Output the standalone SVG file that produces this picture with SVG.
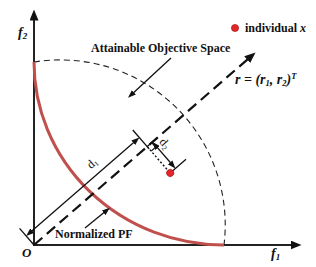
<svg xmlns="http://www.w3.org/2000/svg" width="316" height="267" viewBox="0 0 316 267">
<style>
text{font-family:"Liberation Serif","Times New Roman",serif;fill:#111}
.b{font-weight:bold;font-size:12px}
.bi{font-weight:bold;font-style:italic}
.ax{stroke:#222;stroke-width:2;fill:none}
.thin{stroke:#111;stroke-width:1.3;fill:none}
</style>
<defs>
<marker id="hBig" viewBox="0 0 11 9" refX="0.5" refY="4.5" markerWidth="11" markerHeight="9" markerUnits="userSpaceOnUse" orient="auto"><path d="M0,0 L11,4.5 L0,9 z" fill="#111"/></marker>
<marker id="hSm" viewBox="0 0 8 6" refX="0.5" refY="3" markerWidth="8" markerHeight="6" markerUnits="userSpaceOnUse" orient="auto-start-reverse"><path d="M0,0 L8,3 L0,6 z" fill="#111"/></marker>
</defs>
<rect width="316" height="267" fill="#fff"/>
<g id="axes">
<line class="ax" x1="34" y1="246" x2="34" y2="20" marker-end="url(#hBig)"/>
<line class="ax" x1="33" y1="245" x2="291" y2="245" marker-end="url(#hBig)"/>
</g>
<g id="attainable-boundary">
<path d="M34,62 A165,165 0 0 1 224,245" fill="none" stroke="#222" stroke-width="1.1" stroke-dasharray="6 4"/>
</g>
<g id="normalized-pf">
<path d="M34,62 A190,183 0 0 0 224,245" fill="none" stroke="#c0504d" stroke-width="3"/>
</g>
<g id="connectors">
<line class="thin" x1="171" y1="58" x2="133.5" y2="92.7" marker-end="url(#hSm)"/>
<line class="thin" x1="85" y1="228" x2="104" y2="212.5" marker-end="url(#hSm)"/>
</g>
<g id="construction" transform="translate(34,245) rotate(-41)">
<line x1="0" y1="0" x2="283" y2="0" stroke="#111" stroke-width="2.2" stroke-dasharray="11 6" marker-end="url(#hBig)"/>
<line class="thin" x1="0" y1="0" x2="0" y2="-22"/>
<line class="thin" x1="150" y1="3" x2="150" y2="-22"/>
<line class="thin" x1="7.5" y1="-12" x2="142.5" y2="-12" marker-start="url(#hSm)" marker-end="url(#hSm)"/>
<line x1="150" y1="0" x2="150" y2="32" stroke="#111" stroke-width="1.4" stroke-dasharray="2 2"/>
<path class="thin" d="M156,0 L156,6 L150,6"/>
<line class="thin" x1="150" y1="0" x2="164" y2="0"/>
<line class="thin" x1="150" y1="35" x2="171" y2="35"/>
<line class="thin" x1="157" y1="7.5" x2="157" y2="27.5" marker-start="url(#hSm)" marker-end="url(#hSm)"/>
<circle cx="150" cy="35" r="3.6" fill="#e3262b" stroke="#a01010" stroke-width="0.6"/>
</g>
<g id="labels">
<text class="bi" x="18" y="37" font-size="14">f<tspan font-size="9" dy="2">2</tspan></text>
<text class="bi" x="271" y="258" font-size="14">f<tspan font-size="9" dy="2">1</tspan></text>
<text class="bi" x="22" y="257" font-size="13">O</text>
<text class="b" x="91" y="52">Attainable Objective Space</text>
<circle cx="235" cy="28" r="3.6" fill="#e3262b" stroke="#a01010" stroke-width="0.6"/>
<text class="b" x="245" y="32">individual <tspan font-style="italic">x</tspan></text>
<text class="b" x="55" y="238">Normalized PF</text>
<text class="bi" x="235" y="84" font-size="14">r = (r<tspan font-size="8.5" dy="2">1</tspan><tspan dy="-2">, r</tspan><tspan font-size="8.5" dy="2">2</tspan><tspan dy="-2">)</tspan><tspan font-size="8.5" dy="-5">T</tspan></text>
<text transform="translate(94.6,166) rotate(-41)" font-size="12" text-anchor="middle" fill="#223">d<tspan font-size="7.5" dy="2">1</tspan></text>
<text transform="translate(162,146) rotate(49)" font-size="12" text-anchor="middle" fill="#223">d<tspan font-size="7.5" dy="2">2</tspan></text>
</g>
</svg>
